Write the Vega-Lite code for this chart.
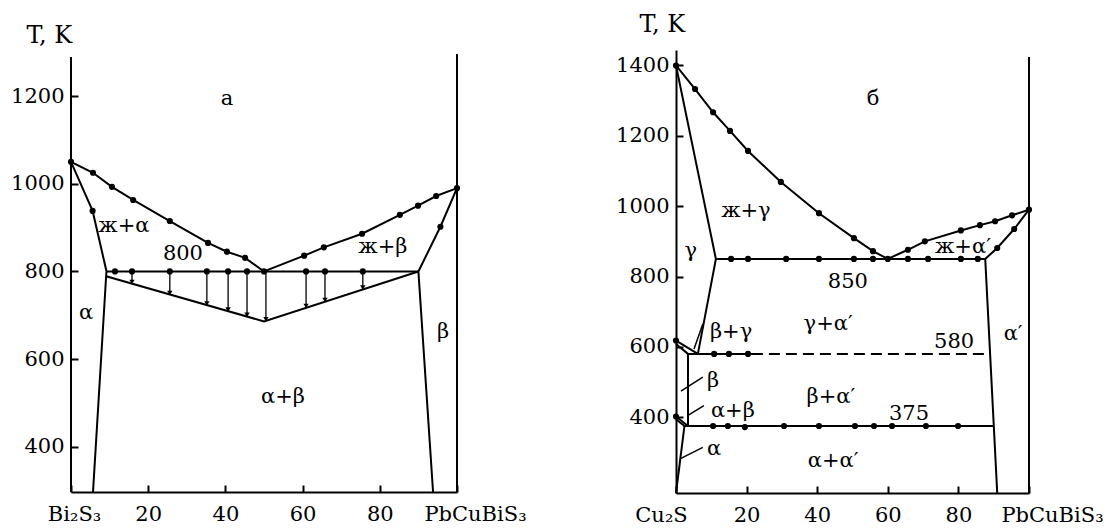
{
  "$schema": "https://vega.github.io/schema/vega-lite/v6.json",
  "background": "#ffffff",
  "padding": {"left": 10, "top": 12, "right": 2, "bottom": 5},
  "bounds": "flush",
  "spacing": 219,
  "config": {
    "view": {"stroke": null},
    "font": "DejaVu Serif",
    "axis": {
      "grid": false,
      "format": "d",
      "domainColor": "black",
      "domainWidth": 2,
      "tickColor": "black",
      "tickWidth": 2,
      "tickSize": -7,
      "labelPadding": 14,
      "labelFont": "DejaVu Serif",
      "labelFontSize": 21,
      "labelColor": "black",
      "labelFlush": false,
      "labelOverlap": false,
      "labelBound": false,
      "titleFont": "DejaVu Serif",
      "titleFontSize": 24,
      "titleFontWeight": "normal",
      "titleColor": "black"
    },
    "axisX": {"labelPadding": 18}
  },
  "datasets": {
    "linesA": [
      {"seg": "liq", "i": 0, "x": 0, "T": 1050},
      {"seg": "liq", "i": 1, "x": 5.7, "T": 1025},
      {"seg": "liq", "i": 2, "x": 10.6, "T": 993},
      {"seg": "liq", "i": 3, "x": 16.1, "T": 963},
      {"seg": "liq", "i": 4, "x": 25.6, "T": 915},
      {"seg": "liq", "i": 5, "x": 35.5, "T": 865},
      {"seg": "liq", "i": 6, "x": 40.4, "T": 845},
      {"seg": "liq", "i": 7, "x": 45.1, "T": 831},
      {"seg": "liq", "i": 8, "x": 50, "T": 800},
      {"seg": "liq", "i": 9, "x": 60.4, "T": 836},
      {"seg": "liq", "i": 10, "x": 65.5, "T": 855},
      {"seg": "liq", "i": 11, "x": 75.4, "T": 886},
      {"seg": "liq", "i": 12, "x": 85.2, "T": 929},
      {"seg": "liq", "i": 13, "x": 89.9, "T": 950},
      {"seg": "liq", "i": 14, "x": 94.6, "T": 972},
      {"seg": "liq", "i": 15, "x": 100, "T": 990},
      {"seg": "solL", "i": 0, "x": 0, "T": 1050},
      {"seg": "solL", "i": 1, "x": 5.6, "T": 938},
      {"seg": "solL", "i": 2, "x": 9.2, "T": 800},
      {"seg": "solL", "i": 3, "x": 9.1, "T": 789},
      {"seg": "solL", "i": 4, "x": 5.7, "T": 297},
      {"seg": "eut", "i": 0, "x": 9.2, "T": 800},
      {"seg": "eut", "i": 1, "x": 90, "T": 800},
      {"seg": "vee", "i": 0, "x": 9.1, "T": 789},
      {"seg": "vee", "i": 1, "x": 50, "T": 686},
      {"seg": "vee", "i": 2, "x": 90, "T": 800},
      {"seg": "solR", "i": 0, "x": 100, "T": 990},
      {"seg": "solR", "i": 1, "x": 95.7, "T": 902},
      {"seg": "solR", "i": 2, "x": 90, "T": 800},
      {"seg": "solR", "i": 3, "x": 93.8, "T": 297}
    ],
    "dotsA": [
      {"x": 0, "T": 1050}, {"x": 5.7, "T": 1025}, {"x": 10.6, "T": 993}, {"x": 16.1, "T": 963},
      {"x": 25.6, "T": 915}, {"x": 35.5, "T": 865}, {"x": 40.4, "T": 845}, {"x": 45.1, "T": 831},
      {"x": 50, "T": 800}, {"x": 60.4, "T": 836}, {"x": 65.5, "T": 855}, {"x": 75.4, "T": 886},
      {"x": 85.2, "T": 929}, {"x": 89.9, "T": 950}, {"x": 94.6, "T": 972}, {"x": 100, "T": 990},
      {"x": 5.6, "T": 938}, {"x": 95.7, "T": 902},
      {"x": 11.4, "T": 800}, {"x": 15.8, "T": 800}, {"x": 25.6, "T": 800}, {"x": 35.2, "T": 800},
      {"x": 40.7, "T": 800}, {"x": 45.6, "T": 800}, {"x": 60.9, "T": 800}, {"x": 65.8, "T": 800},
      {"x": 75.6, "T": 800}
    ],
    "arrowsA": [
      {"x": 15.8, "T": 776, "T2": 800},
      {"x": 25.6, "T": 751, "T2": 800},
      {"x": 35.2, "T": 727, "T2": 800},
      {"x": 40.7, "T": 713, "T2": 800},
      {"x": 45.6, "T": 701, "T2": 800},
      {"x": 50.5, "T": 691, "T2": 800},
      {"x": 60.9, "T": 721, "T2": 800},
      {"x": 65.8, "T": 735, "T2": 800},
      {"x": 75.6, "T": 763, "T2": 800}
    ],
    "edgesA": [
      {"x": 0, "T": 297, "T2": 1289},
      {"x": 100, "T": 297, "T2": 1296}
    ],
    "labelsA": [
      {"x": 40.4, "T": 1194, "label": "а"},
      {"x": 13.7, "T": 904, "label": "ж+α"},
      {"x": 29.0, "T": 840, "label": "800"},
      {"x": 80.8, "T": 856, "label": "ж+β"},
      {"x": 3.9, "T": 706, "label": "α"},
      {"x": 96.4, "T": 663, "label": "β"},
      {"x": 54.9, "T": 514, "label": "α+β"}
    ],
    "linesB": [
      {"seg": "liq", "i": 0, "x": 0, "T": 1400},
      {"seg": "liq", "i": 1, "x": 5.4, "T": 1333},
      {"seg": "liq", "i": 2, "x": 10.5, "T": 1267},
      {"seg": "liq", "i": 3, "x": 15.3, "T": 1214},
      {"seg": "liq", "i": 4, "x": 20.4, "T": 1157},
      {"seg": "liq", "i": 5, "x": 29.7, "T": 1069},
      {"seg": "liq", "i": 6, "x": 40.5, "T": 980},
      {"seg": "liq", "i": 7, "x": 50.4, "T": 909},
      {"seg": "liq", "i": 8, "x": 55.8, "T": 872},
      {"seg": "liq", "i": 9, "x": 60, "T": 850},
      {"seg": "liq", "i": 10, "x": 65.7, "T": 876},
      {"seg": "liq", "i": 11, "x": 70.5, "T": 900},
      {"seg": "liq", "i": 12, "x": 80.7, "T": 931},
      {"seg": "liq", "i": 13, "x": 86.1, "T": 946},
      {"seg": "liq", "i": 14, "x": 90.4, "T": 957},
      {"seg": "liq", "i": 15, "x": 95.2, "T": 974},
      {"seg": "liq", "i": 16, "x": 100, "T": 990},
      {"seg": "gam", "i": 0, "x": 0, "T": 1400},
      {"seg": "gam", "i": 1, "x": 11.3, "T": 850},
      {"seg": "gam", "i": 2, "x": 6.2, "T": 580},
      {"seg": "eut", "i": 0, "x": 11.3, "T": 850},
      {"seg": "eut", "i": 1, "x": 87.6, "T": 850},
      {"seg": "solR", "i": 0, "x": 100, "T": 990},
      {"seg": "solR", "i": 1, "x": 95.8, "T": 935},
      {"seg": "solR", "i": 2, "x": 91, "T": 881},
      {"seg": "solR", "i": 3, "x": 87.6, "T": 850},
      {"seg": "solR", "i": 4, "x": 91, "T": 184.5},
      {"seg": "bg1", "i": 0, "x": 0, "T": 618},
      {"seg": "bg1", "i": 1, "x": 6.2, "T": 580},
      {"seg": "bg2", "i": 0, "x": 0, "T": 608},
      {"seg": "bg2", "i": 1, "x": 3.4, "T": 580},
      {"seg": "i580", "i": 0, "x": 3.4, "T": 580},
      {"seg": "i580", "i": 1, "x": 21.5, "T": 580},
      {"seg": "bv", "i": 0, "x": 3.4, "T": 580},
      {"seg": "bv", "i": 1, "x": 3.4, "T": 375},
      {"seg": "ab1", "i": 0, "x": 0, "T": 402},
      {"seg": "ab1", "i": 1, "x": 3.4, "T": 375},
      {"seg": "ab2", "i": 0, "x": 0, "T": 394},
      {"seg": "ab2", "i": 1, "x": 2.4, "T": 375},
      {"seg": "i375", "i": 0, "x": 2.4, "T": 375},
      {"seg": "i375", "i": 1, "x": 90, "T": 375},
      {"seg": "aL", "i": 0, "x": 2.4, "T": 375},
      {"seg": "aL", "i": 1, "x": 0, "T": 184.5}
    ],
    "leadersB": [
      {"seg": "L1", "i": 0, "x": 7.6, "T": 665},
      {"seg": "L1", "i": 1, "x": 5.1, "T": 594},
      {"seg": "L2", "i": 0, "x": 1.4, "T": 474},
      {"seg": "L2", "i": 1, "x": 7.6, "T": 514},
      {"seg": "L3", "i": 0, "x": 3.4, "T": 405},
      {"seg": "L3", "i": 1, "x": 7.9, "T": 433},
      {"seg": "L4", "i": 0, "x": 1.4, "T": 283},
      {"seg": "L4", "i": 1, "x": 7.6, "T": 314}
    ],
    "dashB": [
      {"seg": "d580", "i": 0, "x": 21.5, "T": 580},
      {"seg": "d580", "i": 1, "x": 89, "T": 580}
    ],
    "dotsB": [
      {"x": 0, "T": 1400}, {"x": 5.4, "T": 1333}, {"x": 10.5, "T": 1267}, {"x": 15.3, "T": 1214},
      {"x": 20.4, "T": 1157}, {"x": 29.7, "T": 1069}, {"x": 40.5, "T": 980}, {"x": 50.4, "T": 909},
      {"x": 55.8, "T": 872}, {"x": 60, "T": 850}, {"x": 65.7, "T": 876}, {"x": 70.5, "T": 900},
      {"x": 80.7, "T": 931}, {"x": 86.1, "T": 946}, {"x": 90.4, "T": 957}, {"x": 95.2, "T": 974},
      {"x": 100, "T": 990}, {"x": 95.8, "T": 935}, {"x": 91, "T": 881},
      {"x": 15.6, "T": 850}, {"x": 20.4, "T": 850}, {"x": 31.2, "T": 850}, {"x": 40.5, "T": 850},
      {"x": 50.4, "T": 850}, {"x": 55.8, "T": 850}, {"x": 65.7, "T": 850}, {"x": 71.4, "T": 850},
      {"x": 80.7, "T": 850}, {"x": 85.5, "T": 850},
      {"x": 10.8, "T": 580}, {"x": 15, "T": 580}, {"x": 20.4, "T": 580},
      {"x": 10.5, "T": 375}, {"x": 14.7, "T": 375}, {"x": 19.5, "T": 372}, {"x": 30.6, "T": 375},
      {"x": 40.5, "T": 375}, {"x": 50.7, "T": 375}, {"x": 56.1, "T": 375}, {"x": 61.2, "T": 375},
      {"x": 70.8, "T": 375}, {"x": 79.9, "T": 375},
      {"x": 0, "T": 618}, {"x": 0, "T": 402}
    ],
    "edgesB": [
      {"x": 100, "T": 184.5, "T2": 1424}
    ],
    "labelsB": [
      {"x": 55.8, "T": 1305, "label": "б"},
      {"x": 19.8, "T": 986, "label": "ж+γ"},
      {"x": 4.2, "T": 872, "label": "γ"},
      {"x": 81.3, "T": 884, "label": "ж+α′"},
      {"x": 48.7, "T": 784, "label": "850"},
      {"x": 43.1, "T": 665, "label": "γ+α′"},
      {"x": 15.6, "T": 642, "label": "β+γ"},
      {"x": 78.8, "T": 614, "label": "580"},
      {"x": 95.5, "T": 636, "label": "α′"},
      {"x": 10.5, "T": 503, "label": "β"},
      {"x": 43.9, "T": 457, "label": "β+α′"},
      {"x": 16.1, "T": 418, "label": "α+β"},
      {"x": 66, "T": 410, "label": "375"},
      {"x": 10.8, "T": 310, "label": "α"},
      {"x": 44.5, "T": 276, "label": "α+α′"}
    ]
  },
  "hconcat": [
    {
      "width": 386,
      "height": 442,
      "encoding": {
        "x": {
          "field": "x", "type": "quantitative",
          "scale": {"domain": [0, 100], "nice": false, "zero": false},
          "axis": {
            "title": null,
            "values": [0, 20, 40, 60, 80, 100],
            "labelExpr": "datum.value === 0 ? 'Bi₂S₃' : datum.value === 100 ? 'PbCuBiS₃' : datum.label",
            "labelOffset": {"condition": [{"test": "datum.value === 0", "value": 3}, {"test": "datum.value === 100", "value": 18}], "value": 0}
          }
        },
        "y": {
          "field": "T", "type": "quantitative",
          "scale": {"domain": [297, 1305], "nice": false, "zero": false},
          "axis": {
            "title": "T, K",
            "values": [400, 600, 800, 1000, 1200],
            "domain": false,
            "titleAngle": 0, "titleAlign": "left", "titleBaseline": "alphabetic",
            "titleX": -45, "titleY": -8
          }
        }
      },
      "layer": [
        {
          "data": {"name": "edgesA"},
          "mark": {"type": "rule", "color": "black", "strokeWidth": 2},
          "encoding": {"y2": {"field": "T2"}}
        },
        {
          "data": {"name": "linesA"},
          "mark": {"type": "line", "color": "black", "strokeWidth": 2},
          "encoding": {"detail": {"field": "seg"}, "order": {"field": "i", "type": "quantitative"}}
        },
        {
          "data": {"name": "arrowsA"},
          "mark": {"type": "rule", "color": "black", "strokeWidth": 1.3},
          "encoding": {"y2": {"field": "T2"}}
        },
        {
          "data": {"name": "arrowsA"},
          "mark": {"type": "point", "shape": "triangle-down", "filled": true, "color": "black", "size": 28, "opacity": 1}
        },
        {
          "data": {"name": "dotsA"},
          "mark": {"type": "circle", "color": "black", "size": 38, "opacity": 1}
        },
        {
          "data": {"name": "labelsA"},
          "mark": {"type": "text", "font": "DejaVu Serif", "fontSize": 21, "color": "black", "align": "center", "baseline": "middle"},
          "encoding": {"text": {"field": "label"}}
        }
      ]
    },
    {
      "width": 353,
      "height": 443,
      "encoding": {
        "x": {
          "field": "x", "type": "quantitative",
          "scale": {"domain": [0, 100], "nice": false, "zero": false},
          "axis": {
            "title": null,
            "values": [0, 20, 40, 60, 80, 100],
            "labelExpr": "datum.value === 0 ? 'Cu₂S' : datum.value === 100 ? 'PbCuBiS₃' : datum.label",
            "labelOffset": {"condition": [{"test": "datum.value === 0", "value": -15}, {"test": "datum.value === 100", "value": 23}], "value": 0}
          }
        },
        "y": {
          "field": "T", "type": "quantitative",
          "scale": {"domain": [184.5, 1444], "nice": false, "zero": false},
          "axis": {
            "title": "T, K",
            "values": [400, 600, 800, 1000, 1200, 1400],
            "titleAngle": 0, "titleAlign": "left", "titleBaseline": "alphabetic",
            "titleX": -37, "titleY": -19
          }
        }
      },
      "layer": [
        {
          "data": {"name": "edgesB"},
          "mark": {"type": "rule", "color": "black", "strokeWidth": 2},
          "encoding": {"y2": {"field": "T2"}}
        },
        {
          "data": {"name": "linesB"},
          "mark": {"type": "line", "color": "black", "strokeWidth": 2},
          "encoding": {"detail": {"field": "seg"}, "order": {"field": "i", "type": "quantitative"}}
        },
        {
          "data": {"name": "dashB"},
          "mark": {"type": "line", "color": "black", "strokeWidth": 2, "strokeDash": [11, 6]},
          "encoding": {"detail": {"field": "seg"}, "order": {"field": "i", "type": "quantitative"}}
        },
        {
          "data": {"name": "leadersB"},
          "mark": {"type": "line", "color": "black", "strokeWidth": 1.5},
          "encoding": {"detail": {"field": "seg"}, "order": {"field": "i", "type": "quantitative"}}
        },
        {
          "data": {"name": "dotsB"},
          "mark": {"type": "circle", "color": "black", "size": 38, "opacity": 1}
        },
        {
          "data": {"name": "labelsB"},
          "mark": {"type": "text", "font": "DejaVu Serif", "fontSize": 21, "color": "black", "align": "center", "baseline": "middle"},
          "encoding": {"text": {"field": "label"}}
        }
      ]
    }
  ]
}
